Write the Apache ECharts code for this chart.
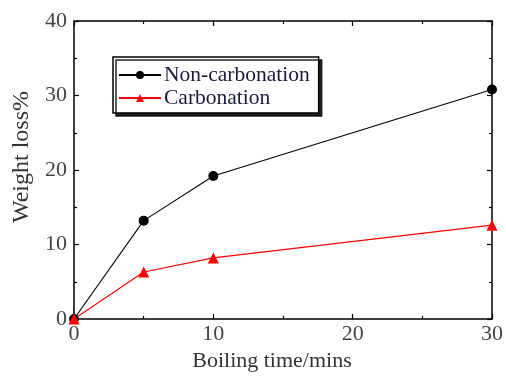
<!DOCTYPE html>
<html>
<head>
<meta charset="utf-8">
<script src="https://cdn.jsdelivr.net/npm/echarts@6/dist/echarts.min.js"></script>
<style>html,body{margin:0;padding:0;background:#fff;}#c{width:506px;height:379px;}</style>
</head>
<body>
<div id="c"></div>
<script>
const boilingTime = [0, 5, 10, 30];
const nonCarbonation = [0, 13.2, 19.2, 30.8];
const carbonation = [0, 6.3, 8.2, 12.6];
const seriesNames = ['Non-carbonation', 'Carbonation'];

const font = 'Liberation Serif, Times New Roman, serif';
const chart = echarts.init(document.getElementById('c'));
const axisCommon = {
  type: 'value',
  axisLine: { show: true, onZero: false, lineStyle: { color: '#000', width: 1.5 } },
  axisTick: { show: true, inside: true, length: 5, lineStyle: { color: '#000', width: 1.2 } },
  minorTick: { show: true, splitNumber: 2, length: 3, lineStyle: { color: '#000', width: 1.2 } },
  splitLine: { show: false }
};
chart.setOption({
  animation: false,
  grid: { left: 74, top: 21, right: 14, bottom: 60 },
  legend: {
    orient: 'vertical',
    left: 113, top: 57,
    padding: [7, 9, 4, 5],
    itemGap: 1,
    itemWidth: 42,
    itemHeight: 10,
    backgroundColor: '#fff',
    borderColor: '#000',
    borderWidth: 1.5,
    borderRadius: 0,
    shadowColor: 'rgba(0,0,0,0.85)',
    shadowBlur: 0,
    shadowOffsetX: 3,
    shadowOffsetY: 3,
    textStyle: { fontFamily: font, fontSize: 21.5, color: '#1a1a3a', padding: [0, 0, 0, -2] },
    data: seriesNames
  },
  xAxis: [
    Object.assign({}, axisCommon, {
      min: 0, max: 30, interval: 10,
      name: 'Boiling time/mins', nameLocation: 'middle', nameGap: 27,
      nameTextStyle: { fontFamily: font, fontSize: 22, color: '#333', padding: [0, 22, 0, 0] },
      axisLabel: { fontFamily: font, fontSize: 22, color: '#444', margin: 4 }
    }),
    Object.assign({}, axisCommon, {
      min: 0, max: 30, interval: 10, position: 'top',
      axisLabel: { show: false }
    })
  ],
  yAxis: [
    Object.assign({}, axisCommon, {
      min: 0, max: 40, interval: 10,
      name: 'Weight loss%', nameLocation: 'middle', nameGap: 37,
      nameTextStyle: { fontFamily: font, fontSize: 24, color: '#333', padding: [0, 0, 0, 26] },
      axisLabel: { fontFamily: font, fontSize: 22, color: '#444', margin: 7 }
    }),
    Object.assign({}, axisCommon, {
      min: 0, max: 40, interval: 10, position: 'right',
      axisLabel: { show: false }
    })
  ],
  series: [
    {
      name: seriesNames[0], type: 'line',
      data: boilingTime.map((x, i) => [x, nonCarbonation[i]]),
      symbol: 'circle', symbolSize: 10,
      itemStyle: { color: '#000' },
      lineStyle: { color: '#000', width: 1.1 }
    },
    {
      name: seriesNames[1], type: 'line',
      data: boilingTime.map((x, i) => [x, carbonation[i]]),
      symbol: 'triangle', symbolSize: 11,
      itemStyle: { color: '#ff0000' },
      lineStyle: { color: '#ff0000', width: 1.1 }
    }
  ]
});
</script>
</body>
</html>
